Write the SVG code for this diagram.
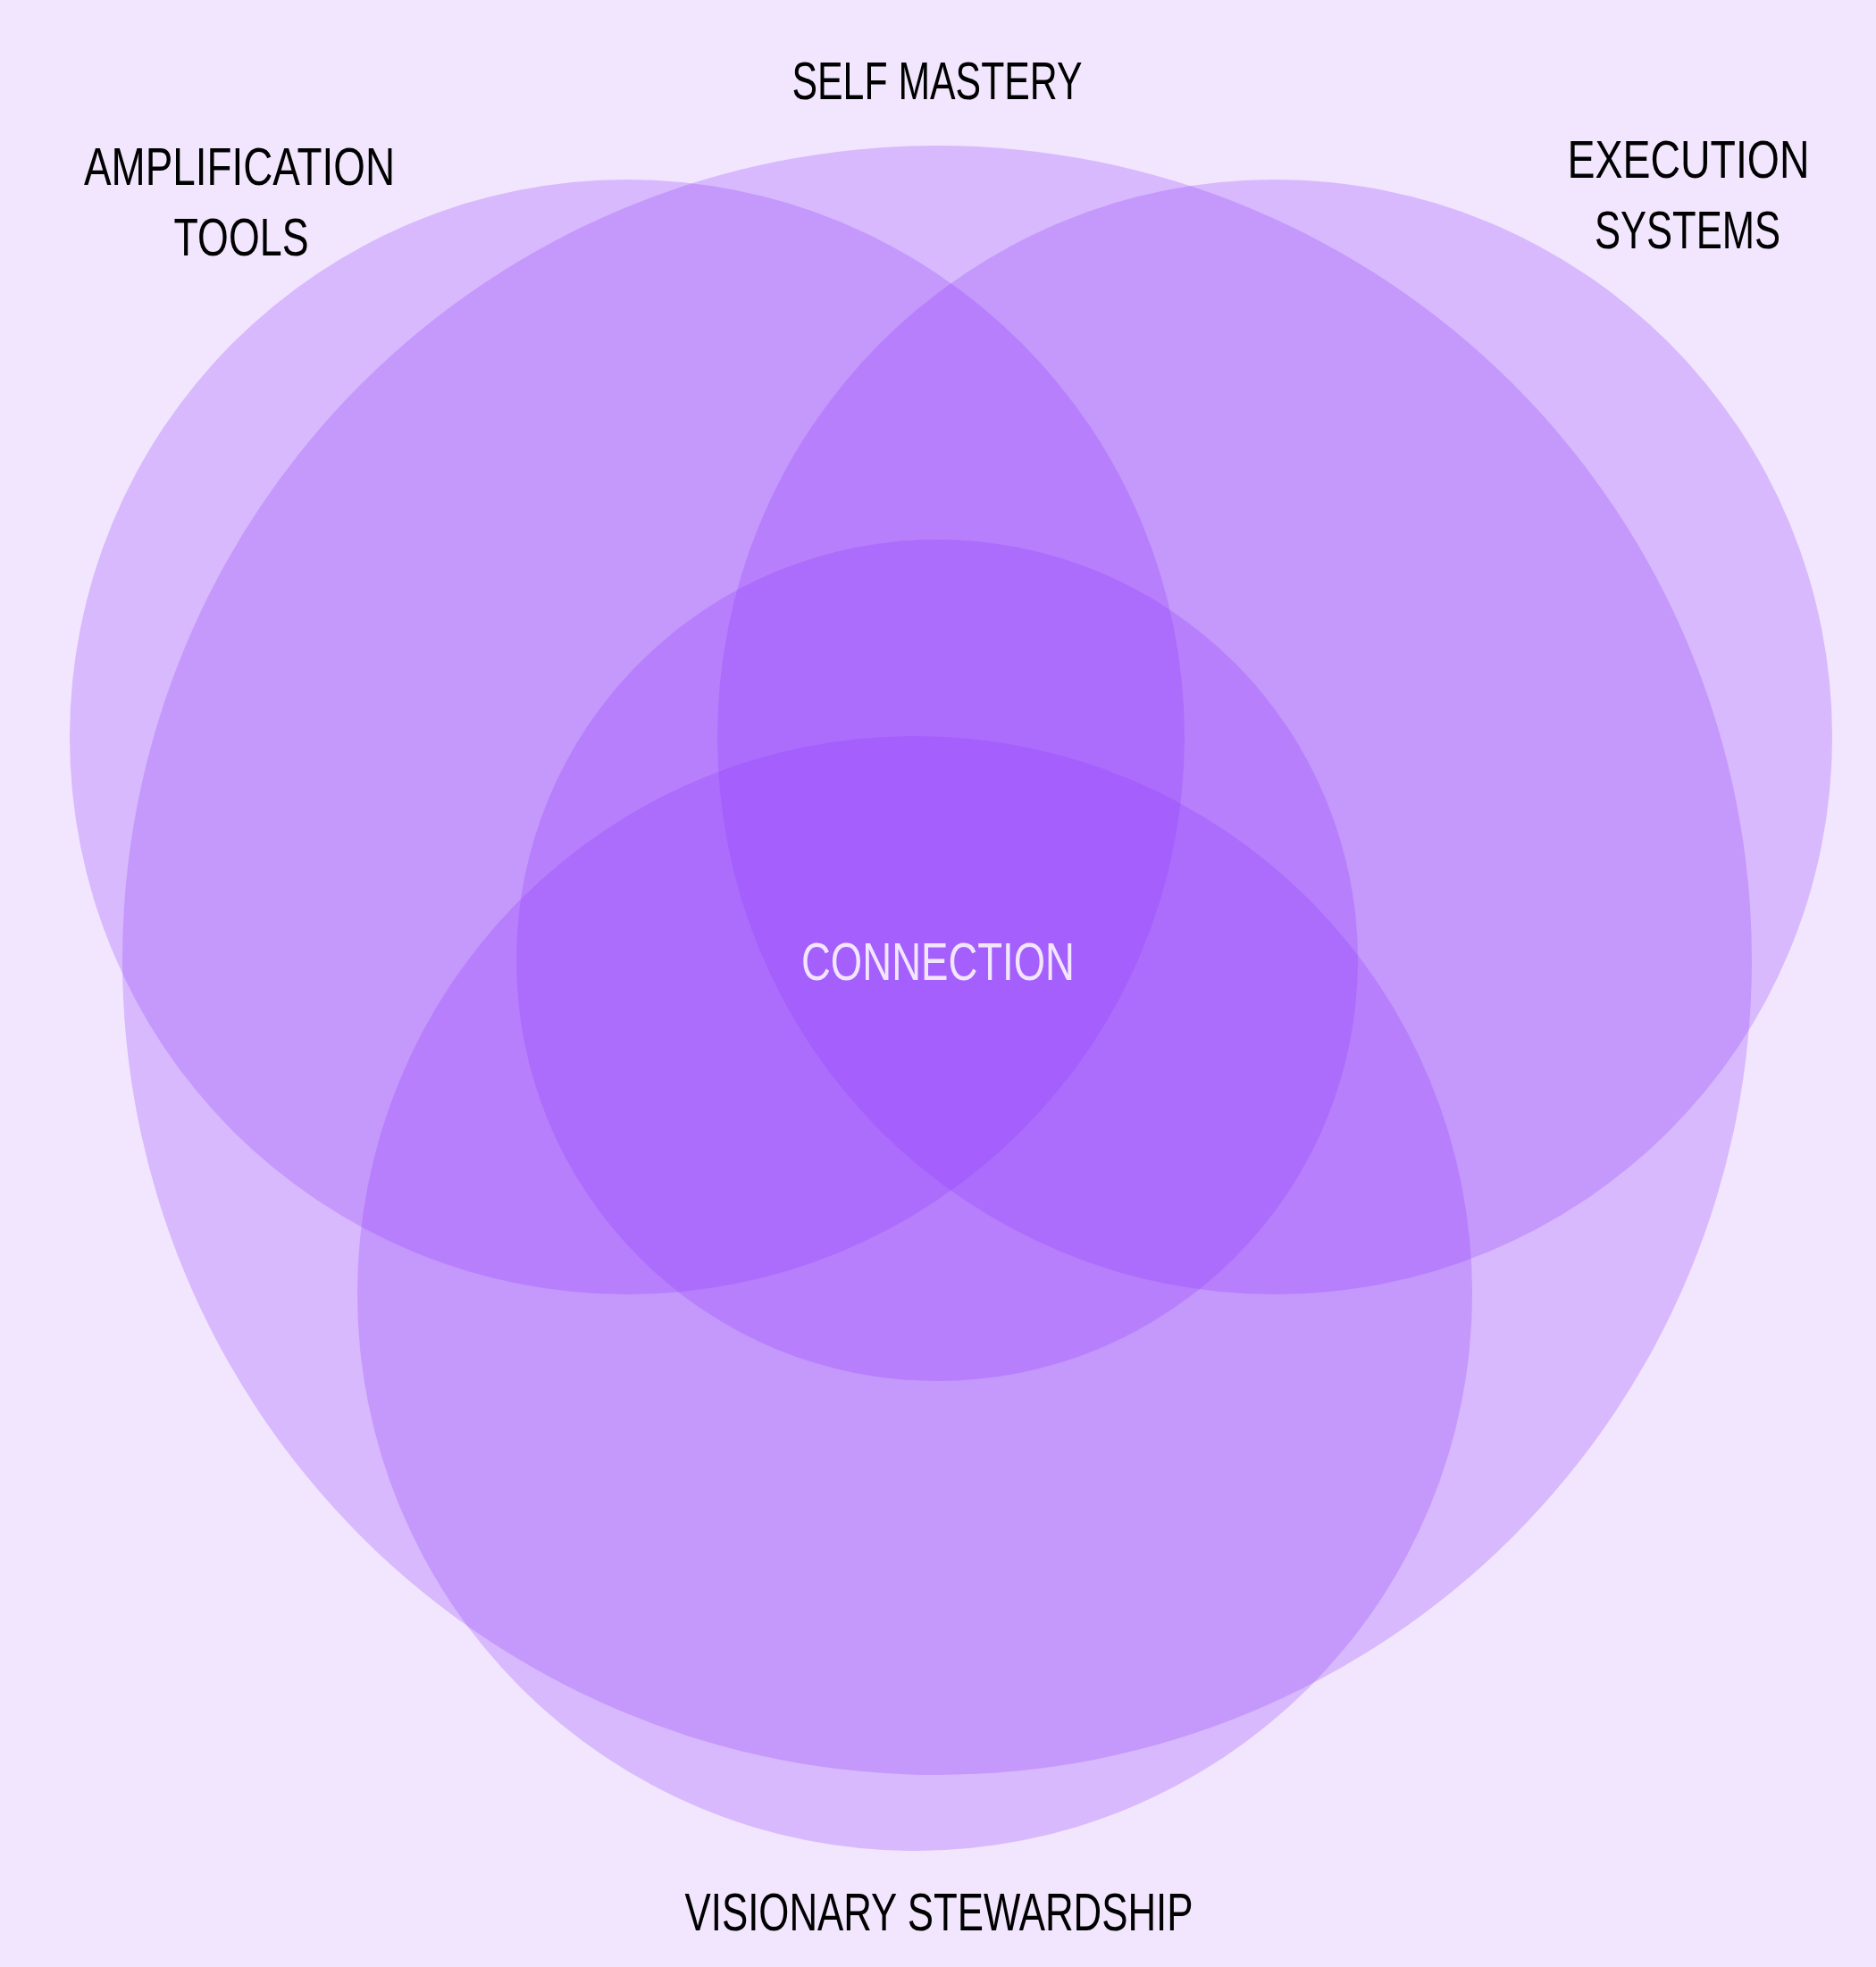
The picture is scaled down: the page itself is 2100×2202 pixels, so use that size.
<svg xmlns="http://www.w3.org/2000/svg" width="2100" height="2202" viewBox="0 0 2100 2202">
<style>
.c{fill:#8f3bfa;fill-opacity:0.26;stroke:none}
.t{font-family:"Liberation Sans","DejaVu Sans",sans-serif;font-size:60px;fill:#000;text-anchor:middle}
.w{fill:#f2e6fe}
</style>
<rect x="0" y="0" width="2100" height="2202" fill="#f2e6fe"/>
<g id="self-mastery"><circle class="c" cx="1049" cy="1075" r="912"/><text class="t" x="1049" y="111" textLength="325" lengthAdjust="spacingAndGlyphs">SELF MASTERY</text></g>
<g id="amplification-tools"><circle class="c" cx="702" cy="825" r="624"/><text class="t" x="268" y="207" textLength="348" lengthAdjust="spacingAndGlyphs">AMPLIFICATION</text><text class="t" x="270" y="286" textLength="151" lengthAdjust="spacingAndGlyphs">TOOLS</text></g>
<g id="execution-systems"><circle class="c" cx="1427" cy="825" r="624"/><text class="t" x="1890" y="199" textLength="271" lengthAdjust="spacingAndGlyphs">EXECUTION</text><text class="t" x="1889" y="278" textLength="208" lengthAdjust="spacingAndGlyphs">SYSTEMS</text></g>
<g id="visionary-stewardship"><circle class="c" cx="1024" cy="1448" r="624"/><text class="t" x="1051" y="2161" textLength="569" lengthAdjust="spacingAndGlyphs">VISIONARY STEWARDSHIP</text></g>
<g id="connection"><circle class="c" cx="1049" cy="1075" r="471"/><text class="t w" x="1050" y="1097" textLength="306" lengthAdjust="spacingAndGlyphs">CONNECTION</text></g>
<g id="connectors"></g>
</svg>
